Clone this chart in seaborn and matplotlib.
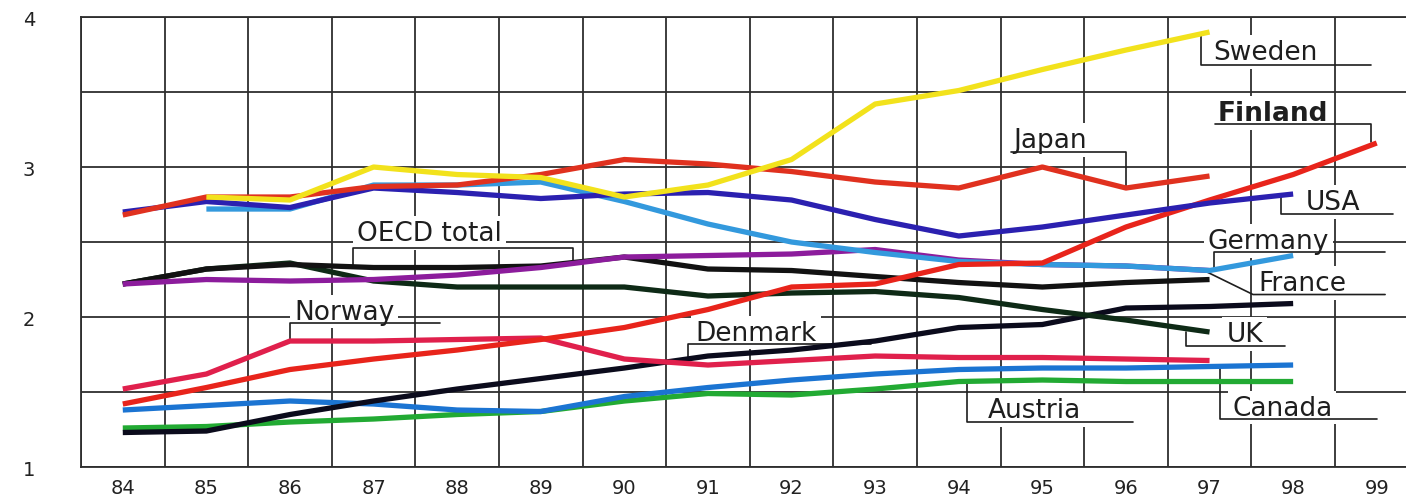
import numpy as np
import pandas as pd
import matplotlib.pyplot as plt
import seaborn as sns
from matplotlib.ticker import FixedLocator

# R&D spending, % of GDP
years = list(range(84, 100))
nan = np.nan
sweden  = [nan, 2.80, 2.78, 3.00, 2.95, 2.93, 2.80, 2.88, 3.05, 3.42, 3.51, 3.65, 3.78, 3.90, nan, nan]
japan   = [2.68, 2.80, 2.80, 2.87, 2.88, 2.95, 3.05, 3.02, 2.97, 2.90, 2.86, 3.00, 2.86, 2.94, nan, nan]
finland = [1.42, 1.53, 1.65, 1.72, 1.78, 1.85, 1.93, 2.05, 2.20, 2.22, 2.35, 2.36, 2.60, 2.78, 2.95, 3.16]
usa     = [2.70, 2.77, 2.73, 2.86, 2.83, 2.79, 2.82, 2.83, 2.78, 2.65, 2.54, 2.60, 2.68, 2.76, 2.82, nan]
germany = [nan, 2.72, 2.72, 2.88, 2.88, 2.90, 2.77, 2.62, 2.50, 2.43, 2.37, 2.35, 2.34, 2.31, 2.41, nan]
france  = [2.22, 2.25, 2.24, 2.25, 2.28, 2.33, 2.40, 2.41, 2.42, 2.45, 2.38, 2.35, 2.34, 2.31, nan, nan]
oecd    = [2.22, 2.32, 2.35, 2.33, 2.33, 2.34, 2.40, 2.32, 2.31, 2.27, 2.23, 2.20, 2.23, 2.25, nan, nan]
uk      = [2.22, 2.32, 2.36, 2.24, 2.20, 2.20, 2.20, 2.14, 2.16, 2.17, 2.13, 2.05, 1.98, 1.90, nan, nan]
denmark = [1.23, 1.24, 1.35, 1.44, 1.52, 1.59, 1.66, 1.74, 1.78, 1.84, 1.93, 1.95, 2.06, 2.07, 2.09, nan]
norway  = [1.52, 1.62, 1.84, 1.84, 1.85, 1.86, 1.72, 1.68, 1.71, 1.74, 1.73, 1.73, 1.72, 1.71, nan, nan]
canada  = [1.38, 1.41, 1.44, 1.42, 1.38, 1.37, 1.47, 1.53, 1.58, 1.62, 1.65, 1.66, 1.66, 1.67, 1.68, nan]
austria = [1.26, 1.27, 1.30, 1.32, 1.35, 1.37, 1.44, 1.49, 1.48, 1.52, 1.57, 1.58, 1.57, 1.57, 1.57, nan]

series = {
    "Austria": austria, "Canada": canada, "Denmark": denmark, "Norway": norway,
    "UK": uk, "OECD total": oecd, "France": france, "Germany": germany,
    "Finland": finland, "USA": usa, "Japan": japan, "Sweden": sweden,
}
colors = {
    "Sweden": "#f2e21c", "Japan": "#e0311f", "Finland": "#e8241b", "USA": "#2b20b0",
    "Germany": "#3399dd", "France": "#8c1c9c", "OECD total": "#121212", "UK": "#0e2a16",
    "Denmark": "#0b0b1c", "Norway": "#e0204c", "Canada": "#1b74d2", "Austria": "#22aa33",
}

rows = []
for name, vals in series.items():
    for yr, v in zip(years, vals):
        rows.append({"year": yr, "value": v, "country": name})
df = pd.DataFrame(rows).dropna()

sns.set_style("white")
plt.rcParams["font.family"] = ["DejaVu Sans"]

fig = plt.figure(figsize=(14.06, 5.02), dpi=100)
ax = fig.add_axes([0.0576, 0.0677, 0.9424, 0.8964])

sns.lineplot(data=df, x="year", y="value", hue="country", hue_order=list(series.keys()),
             palette=colors, linewidth=3.8, legend=False, estimator=None, sort=True, ax=ax)
for ln in ax.lines:
    ln.set_zorder(3)
    ln.set_solid_capstyle("butt")

ax.set_xlim(83.5, 99.35)
ax.set_ylim(1, 4)
ax.set_xlabel("")
ax.set_ylabel("")

ax.xaxis.set_major_locator(FixedLocator(years))
ax.xaxis.set_minor_locator(FixedLocator([y - 0.5 for y in years]))
ax.set_xticklabels([str(y) for y in years])
ax.yaxis.set_major_locator(FixedLocator([1, 2, 3, 4]))
ax.yaxis.set_minor_locator(FixedLocator([1.5, 2.5, 3.5]))

gcol = "#2e2e2e"
ax.xaxis.grid(True, which="minor", color=gcol, lw=1.3)
ax.xaxis.grid(False, which="major")
ax.yaxis.grid(True, which="both", color=gcol, lw=1.3)
ax.set_axisbelow(True)

ax.tick_params(axis="x", which="major", length=0, pad=8, labelsize=14, labelcolor="#222")
ax.tick_params(axis="x", which="minor", length=8, width=1.3, color=gcol, direction="out")
ax.tick_params(axis="y", which="both", length=0, pad=33, labelsize=14, labelcolor="#222")

for s in ["left", "bottom", "top"]:
    ax.spines[s].set_color(gcol)
    ax.spines[s].set_linewidth(1.3)
ax.spines["right"].set_visible(False)

# labels with their leader lines
labels = [
    ("Sweden", 97.05, 3.72, [(96.9, 3.89), (96.9, 3.68), (98.93, 3.68)], "normal"),
    ("Finland", 97.1, 3.315, [(97.07, 3.29), (98.93, 3.29), (98.93, 3.17)], "bold"),
    ("Japan", 94.65, 3.135, [(94.62, 3.10), (96.0, 3.10), (96.0, 2.87)], "normal"),
    ("USA", 98.15, 2.72, [(97.85, 2.82), (97.85, 2.69), (99.2, 2.69)], "normal"),
    ("Germany", 96.98, 2.46, [(97.05, 2.33), (97.05, 2.435), (99.1, 2.435)], "normal"),
    ("France", 97.58, 2.18, [(96.97, 2.30), (97.52, 2.15), (99.1, 2.15)], "normal"),
    ("UK", 97.2, 1.84, [(96.72, 1.90), (96.72, 1.81), (97.9, 1.81)], "normal"),
    ("Canada", 97.27, 1.35, [(97.13, 1.67), (97.13, 1.32), (99.0, 1.32)], "normal"),
    ("Austria", 94.35, 1.335, [(94.1, 1.57), (94.1, 1.30), (96.08, 1.30)], "normal"),
    ("Denmark", 90.85, 1.85, [(90.76, 1.72), (90.76, 1.82), (92.95, 1.82)], "normal"),
    ("Norway", 86.05, 1.99, [(86.0, 1.84), (86.0, 1.96), (87.8, 1.96)], "normal"),
    ("OECD total", 86.8, 2.515, [(86.75, 2.35), (86.75, 2.46), (89.38, 2.46), (89.38, 2.35)], "normal"),
]
for txt, tx, ty, pts, wt in labels:
    ax.text(tx, ty, txt, ha="left", va="baseline", fontsize=19, fontweight=wt, color="#1e1e1e",
            zorder=2.5, bbox=dict(boxstyle="square,pad=0.15", fc="white", ec="none"))
    xs, ys = zip(*pts)
    ax.plot(xs, ys, color="#1e1e1e", lw=1.2, zorder=2.6)

fig.savefig("out.png", dpi=100)
